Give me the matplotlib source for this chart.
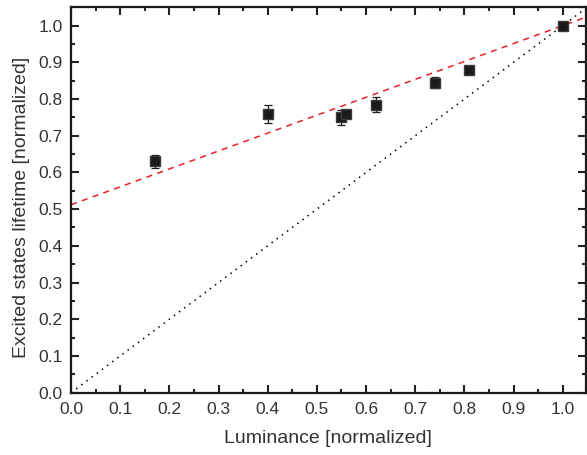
import numpy as np
import matplotlib
matplotlib.use("Agg")
import matplotlib.pyplot as plt
from matplotlib.ticker import MultipleLocator, FormatStrFormatter

plt.rcParams['font.family'] = ['Liberation Sans', 'DejaVu Sans']

# Measured data: luminance vs. excited state lifetime (both normalized)
luminance = [0.17, 0.40, 0.55, 0.56, 0.62, 0.74, 0.81, 1.00]
lifetime = [0.63, 0.76, 0.75, 0.76, 0.785, 0.845, 0.88, 1.00]
lifetime_err = [0.017, 0.025, 0.02, 0.0, 0.02, 0.016, 0.0, 0.0]

# Linear fit (red dashed) and identity reference (black dotted)
fit_intercept = 0.512
fit_slope = 0.488

fig = plt.figure(figsize=(5.87, 4.55), dpi=100)
ax = fig.add_axes([0.121, 0.137, 0.877, 0.847])

xs = np.linspace(0, 1.05, 200)
ax.plot(xs, fit_intercept + fit_slope * xs, color='#e8202a', ls=(0, (4, 3.5)), lw=1.1, zorder=2)
ax.plot(xs, xs, color='black', ls=(0, (1, 3.2)), lw=1.1, zorder=2)

ax.errorbar(luminance, lifetime, yerr=lifetime_err, fmt='s', color='#1a1a1a',
            mec='#3a3a3a', ms=7, capsize=3, elinewidth=0.9, capthick=0.9, zorder=3)

ax.set_xlim(0, 1.047)
ax.set_ylim(0, 1.05)
ax.xaxis.set_major_locator(MultipleLocator(0.1))
ax.xaxis.set_minor_locator(MultipleLocator(0.05))
ax.yaxis.set_major_locator(MultipleLocator(0.1))
ax.yaxis.set_minor_locator(MultipleLocator(0.05))
ax.xaxis.set_major_formatter(FormatStrFormatter('%.1f'))
ax.yaxis.set_major_formatter(FormatStrFormatter('%.1f'))

ax.tick_params(which='both', direction='in', top=True, right=True, width=1.5,
               labelsize=12.5, colors='#222222', labelcolor='#333333')
ax.tick_params(which='major', length=5.5)
ax.tick_params(axis='x', which='major', pad=7)
ax.tick_params(axis='y', which='major', pad=6)
ax.tick_params(which='minor', length=3)
for sp in ax.spines.values():
    sp.set_linewidth(1.6)
    sp.set_color('#1a1a1a')

ax.set_xlabel('Luminance [normalized]', fontsize=14, color='#333333', labelpad=9)
ax.set_ylabel('Excited states lifetime [normalized]', fontsize=14, color='#333333', labelpad=6)
ax.yaxis.label.set_y(0.48)

fig.savefig('out.png', dpi=100)
